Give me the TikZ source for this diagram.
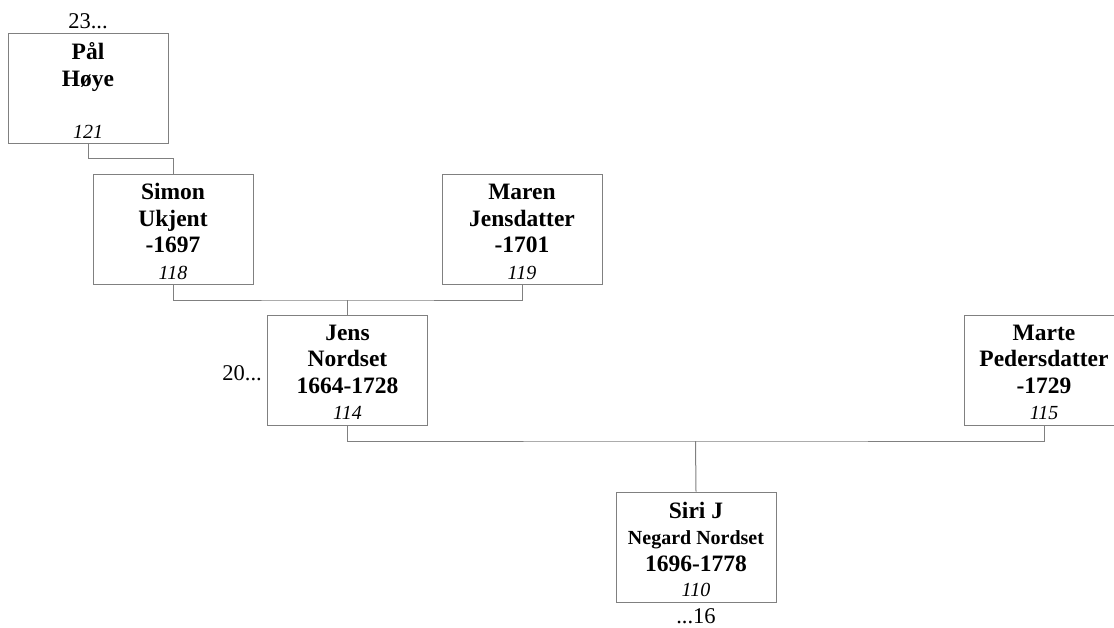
\documentclass[tikz,border=0pt]{standalone}
\usepackage{fontspec}
\setmainfont{Liberation Serif}

\begin{document}
\begin{tikzpicture}[x=1pt, y=-1pt,
  person/.style={draw=gray, line width=1pt, minimum width=160pt, minimum height=110pt, inner sep=0pt},
  who/.style={font=\fontsize{23.5}{26.5}\selectfont\bfseries, align=center, anchor=base, inner sep=0pt},
  num/.style={font=\fontsize{20}{24}\selectfont\itshape, anchor=base, inner sep=0pt},
  more/.style={font=\fontsize{22.5}{27}\selectfont, anchor=base, inner sep=0pt},
  link/.style={draw=gray, line width=1pt}]
  \useasboundingbox (0,0) rectangle (1114,627);

  \node[person] (p121) at (88, 88) {};
  \node[person] (p118) at (173, 229.5) {};
  \node[person] (p119) at (522, 229.5) {};
  \node[person] (p114) at (347.5, 370) {};
  \node[person] (p115) at (1044, 370) {};
  \node[person] (p110) at (696, 547) {};

  \node[who] (n121) at ([yshift=-53.5pt]p121.north) {Pål\\Høye};
  \node[who] (n118) at ([yshift=-78.5pt]p118.north) {Simon\\Ukjent\\ -1697};
  \node[who] (n119) at ([yshift=-78.5pt]p119.north) {Maren\\Jensdatter\\ -1701};
  \node[who] (n114) at ([yshift=-78.5pt]p114.north) {Jens\\Nordset\\1664-1728};
  \node[who] (n115) at ([yshift=-78.5pt]p115.north) {Marte\\Pedersdatter\\ -1729};
  \node[who] (n110) at ([yshift=-79.5pt]p110.north) {Siri J\\{\fontsize{20}{26.5}\selectfont Negard Nordset}\\1696-1778};

  \node[num] (i121) at ([yshift=5pt]p121.south) {121};
  \node[num] (i118) at ([yshift=6pt]p118.south) {118};
  \node[num] (i119) at ([yshift=6pt]p119.south) {119};
  \node[num] (i114) at ([yshift=6pt]p114.south) {114};
  \node[num] (i115) at ([yshift=6pt]p115.south) {115};
  \node[num] (i110) at ([yshift=6pt]p110.south) {110};

  \node[more] (g23) at (88, 28) {23...};
  \node[more, anchor=base east] (g20) at (262, 380) {20...};
  \node[more] (g16) at (696, 623) {...16};

  \coordinate (m114) at (347.5, 300);
  \coordinate (m110) at (695.5, 441);

	\draw[link] (p121.south) -- ++(0,15) -| (p118.north);
	\draw[link] (p118.south) |- (m114) -| (p119.south);
	\draw[link] (m114) -- (p114.north);
	\draw[link] (p114.south) |- (m110) -| (p115.south);
	\draw[link] (m110) -- (p110.north);

\end{tikzpicture}
\end{document}
